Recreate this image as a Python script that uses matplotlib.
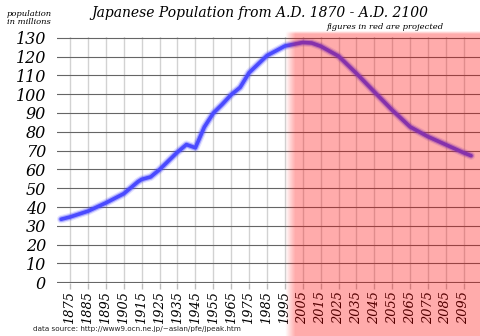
import matplotlib
matplotlib.use("Agg")
import matplotlib.pyplot as plt
import numpy as np

# population of Japan, millions
years = [1870, 1875, 1885, 1895, 1905, 1913, 1915, 1920, 1925, 1935, 1940, 1945,
         1950, 1955, 1960, 1965, 1970, 1975, 1985, 1995, 2005, 2010,
         2015, 2025, 2035, 2045, 2055, 2065, 2075, 2085, 2095, 2099]
population = [33.5, 34.7, 37.8, 42.2, 47.1, 53.5, 54.7, 56.0, 59.9, 69.2, 73.2, 71.5,
              82.5, 89.9, 94.6, 99.7, 103.6, 111.4, 120.5, 125.6, 127.5, 127.2,
              125.5, 120.2, 111.0, 101.2, 91.5, 82.6, 77.4, 73.1, 68.8, 67.3]
tick_years = list(range(1875, 2100, 10))
y_ticks = list(range(0, 131, 10))
projection_start = 1998

W, H = 480, 336
fig = plt.figure(figsize=(W / 100, H / 100), dpi=100)
fig.patch.set_facecolor("white")
ax = fig.add_axes([57 / W, 1 - 283 / H, 423 / W, 246 / H])
ax.set_facecolor("none")

# glowing blue line
for lw, a in [(6.0, 0.15), (4.2, 0.4), (2.6, 1.0)]:
    ax.plot(years, population, color="#4a4aff", lw=lw, alpha=a,
            solid_capstyle="round", solid_joinstyle="round", zorder=3)

ax.set_xlim(1867.7, 2104)
ax.set_ylim(-0.4, 130.4)
ax.set_xticks(tick_years)
ax.set_yticks(y_ticks)
ax.set_xticklabels([str(t) for t in tick_years], rotation=90,
                   family="DejaVu Serif", style="italic", fontsize=9.3)
ax.set_yticklabels([str(t) for t in y_ticks],
                   family="DejaVu Serif", style="italic", fontsize=11.5)
ax.grid(axis="x", color="#d2d2d2", lw=1.0, zorder=1)
ax.grid(axis="y", color="#666666", lw=0.8, zorder=2)
ax.set_axisbelow(True)
ax.tick_params(axis="x", length=4, width=1.0, color="#bdbdbd", pad=2)
ax.tick_params(axis="y", length=0, pad=8)
for s in ax.spines.values():
    s.set_visible(False)

fig.text(260 / W, 1 - 13 / H, "Japanese Population from A.D. 1870 - A.D. 2100",
         ha="center", va="center", family="DejaVu Serif", style="italic",
         fontsize=10)
fig.text(444 / W, 1 - 27 / H, "figures in red are projected", ha="right",
         va="center", family="DejaVu Serif", style="italic", fontsize=6)
fig.text(29 / W, 1 - 18 / H, "population\nin millions", ha="center",
         va="center", family="DejaVu Serif", style="italic", fontsize=6,
         linespacing=0.85)
fig.text(33 / W, 1 - 329 / H,
         "data source: http://www9.ocn.ne.jp/~aslan/pfe/jpeak.htm",
         ha="left", va="center", family="DejaVu Sans", fontsize=5.2,
         color="#222222")

# translucent red overlay for the projected part, soft left edge
fig.canvas.draw()
x0 = ax.transData.transform((projection_start, 0))[0]
xs = np.arange(W) + 0.5
ys = np.arange(H) + 0.5
ax_alpha = np.clip((xs - (x0 - 5)) / 10, 0, 1)
ay_alpha = np.clip(((H - 31) - ys) / 3, 0, 1)
alpha = 0.33 * np.outer(ay_alpha[::-1], ax_alpha)
rgba = np.zeros((H, W, 4))
rgba[..., 0] = 1.0
rgba[..., 3] = alpha
ov = fig.add_axes([0, 0, 1, 1], zorder=10)
ov.imshow(rgba, extent=(0, W, 0, H), aspect="auto", interpolation="bilinear")
ov.set_xlim(0, W)
ov.set_ylim(0, H)
ov.axis("off")

fig.savefig("out.png", dpi=100)
